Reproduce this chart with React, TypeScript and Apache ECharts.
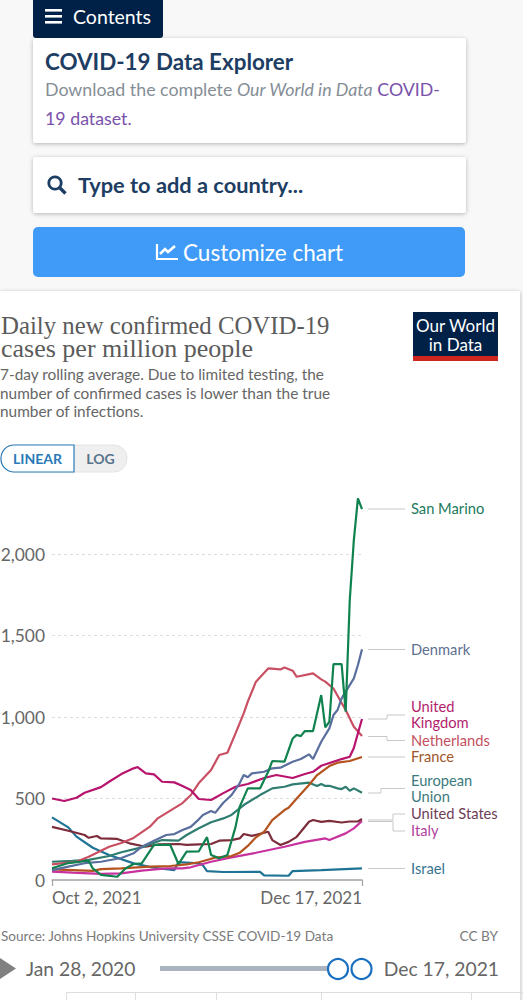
import React, { useEffect, useRef } from "react";
import * as echarts from "echarts";

const xTickLabels = ["Oct 2, 2021", "Dec 17, 2021"];
const totalDays = 76;
const yTicks = [0, 500, 1000, 1500, 2000];

const sanMarino = [[0,72],[4,104],[9,118],[10,71],[12,31],[16,20],[18,71],[20,98],[22,102],[25,215],[29,215],[31,98],[33,174],[36,176],[38,263],[39,153],[41,133],[43,153],[45,326],[46,449],[48,562],[51,562],[53,664],[54,730],[57,726],[59,868],[60,890],[61,883],[62,914],[64,914],[66,1135],[67,937],[68,971],[69,1325],[71,1325],[72,1033],[73,1718],[74,2086],[75,2341],[76,2276]];
const denmark = [[0,61],[4,82],[8,103],[12,112],[17,135],[20,164],[22,204],[25,241],[28,276],[30,282],[32,307],[34,326],[36,372],[37,399],[39,423],[40,412],[42,474],[44,521],[46,593],[47,644],[48,630],[49,654],[52,664],[54,685],[56,689],[59,726],[61,742],[63,771],[64,742],[66,848],[68,930],[69,1012],[70,1043],[71,1114],[74,1237],[75,1319],[76,1415]];
const unitedKingdom = [[0,500],[3,485],[6,505],[8,535],[12,570],[14,603],[17,650],[20,685],[21,693],[23,654],[25,648],[27,603],[30,599],[32,577],[34,552],[36,497],[39,491],[42,533],[45,572],[48,589],[52,626],[55,644],[59,626],[62,650],[64,664],[66,701],[71,742],[73,756],[74,810],[75,900],[76,988]];
const netherlands = [[0,96],[6,112],[9,143],[14,204],[17,227],[20,258],[24,327],[26,380],[32,472],[34,520],[36,595],[39,675],[41,767],[43,781],[45,900],[47,1022],[48,1094],[50,1217],[53,1298],[56,1292],[57,1304],[59,1284],[60,1247],[64,1268],[66,1231],[67,1217],[69,1175],[72,1043],[74,940],[76,883]];
const france = [[0,65],[5,61],[10,56],[12,67],[17,71],[24,82],[29,86],[33,96],[36,109],[38,123],[40,137],[44,147],[46,167],[48,209],[50,262],[52,296],[54,368],[57,429],[58,443],[60,500],[63,583],[65,644],[68,699],[70,720],[73,730],[76,755]];
const europeanUnion = [[0,112],[5,117],[9,123],[14,147],[17,170],[22,200],[25,229],[27,245],[31,241],[33,276],[36,317],[39,354],[42,378],[44,399],[47,460],[51,521],[54,562],[57,572],[59,587],[63,597],[65,577],[66,589],[67,577],[68,578],[70,562],[71,558],[72,572],[73,548],[74,562],[76,535]];
const unitedStates = [[0,326],[4,302],[8,276],[9,259],[11,270],[12,255],[16,252],[19,225],[23,204],[26,218],[31,221],[33,215],[36,218],[39,221],[41,241],[44,245],[46,255],[47,282],[49,271],[53,296],[54,245],[56,215],[58,234],[60,265],[63,357],[64,368],[66,357],[68,363],[71,353],[73,359],[75,359],[76,374]];
const italy = [[0,51],[5,45],[12,37],[17,41],[22,57],[28,71],[32,71],[34,78],[39,112],[44,139],[50,167],[57,204],[62,234],[67,255],[68,245],[72,286],[74,317],[76,362]];
const israel = [[0,384],[4,323],[6,266],[10,198],[14,153],[20,102],[25,75],[30,61],[31,110],[36,102],[37,90],[38,55],[42,49],[51,50],[52,28],[58,26],[59,55],[66,61],[76,71]];

const seriesDefs: [string, number[][], string][] = [
  ["Israel", israel, "#1f7394"],
  ["Italy", italy, "#c8329f"],
  ["United States", unitedStates, "#7c2c3a"],
  ["European Union", europeanUnion, "#2f7d70"],
  ["France", france, "#b5531e"],
  ["Netherlands", netherlands, "#c94f62"],
  ["United Kingdom", unitedKingdom, "#b8146e"],
  ["Denmark", denmark, "#5a6f9e"],
  ["San Marino", sanMarino, "#10824f"],
];

const F = "Lato";
const SERIF = "Liberation Serif";
const NAVY = "#1d3d63";
const GREY = "#666666";

const t = (text: string, x: number, y: number, fontSize: number, fill: string, extra: any = {}) => ({
  type: "text",
  z: 10,
  x,
  y,
  style: { text, fontSize, fill, fontFamily: F, textVerticalAlign: "middle", verticalAlign: "middle", ...extra },
});

const card = (x: number, y: number, width: number, height: number, fill: string, r: any, shadow = true) => ({
  type: "rect",
  z: -1,
  shape: { x, y, width, height, r },
  style: shadow
    ? { fill, shadowBlur: 4, shadowColor: "rgba(0,0,0,0.28)", shadowOffsetY: 1 }
    : { fill },
});

const leader = (points: number[][]) => ({
  type: "polyline",
  z: 5,
  shape: { points },
  style: { stroke: "#c8c8c8", lineWidth: 1, fill: "none" },
});

const labelColor = {
  sm: "#1c7a5c",
  dk: "#5d7091",
  uk: "#b31e6e",
  nl: "#c4505f",
  fr: "#a0572a",
  eu: "#3b7a7c",
  us: "#6e3d56",
  it: "#b13f9e",
  il: "#36758f",
};

const header: any[] = [
  card(0, 291, 520, 720, "#ffffff", 0),
  card(33, -4, 130, 42, "#002147", 3, false),
  { type: "rect", z: 10, shape: { x: 45, y: 9, width: 17, height: 2.6 }, style: { fill: "#fff" } },
  { type: "rect", z: 10, shape: { x: 45, y: 15, width: 17, height: 2.6 }, style: { fill: "#fff" } },
  { type: "rect", z: 10, shape: { x: 45, y: 21, width: 17, height: 2.6 }, style: { fill: "#fff" } },
  t("Contents", 73, 16, 19.5, "#ffffff"),
  card(33, 38, 433, 105, "#ffffff", 3),
  t("COVID-19 Data Explorer", 45, 61, 22.4, NAVY, { fontWeight: "bold" }),
  t("{a|Download the complete }{b|Our World in Data }{c|COVID-}", 45, 89, 17.8, "#858e96", {
    rich: {
      a: { fontSize: 17.8, fontFamily: F, fill: "#858e96" },
      b: { fontSize: 17.8, fontFamily: F, fill: "#858e96", fontStyle: "italic" },
      c: { fontSize: 17.8, fontFamily: F, fill: "#7a52ab" },
    },
  }),
  t("19 dataset.", 45, 118, 17.8, "#7a52ab"),
  card(33, 157, 433, 56, "#ffffff", 3),
  { type: "ring", z: 10, shape: { cx: 55, cy: 183, r: 7.6, r0: 4.8 }, style: { fill: NAVY } },
  { type: "line", z: 10, shape: { x1: 60, y1: 188, x2: 65.5, y2: 193.5 }, style: { stroke: NAVY, lineWidth: 3.4 } },
  t("Type to add a country...", 78, 184.5, 21.8, NAVY, { fontWeight: "bold" }),
  card(33, 227, 432, 50, "#3f9bf7", 5, false),
  { type: "polyline", z: 10, shape: { points: [[157, 244], [157, 259], [178, 259]] }, style: { stroke: "#fff", lineWidth: 2.2, fill: "none" } },
  { type: "polyline", z: 10, shape: { points: [[160, 254], [165, 249], [168, 252], [175, 246]] }, style: { stroke: "#fff", lineWidth: 2.6, fill: "none" } },
  t("Customize chart", 183, 252, 22.5, "#ffffff"),

  t("{a|Daily new confirmed COVID-19}\n{b|cases per million people}", 1, 336.5, 25, "#5b5b5b", {
    fontFamily: SERIF,
    rich: {
      a: { fontSize: 24.8, fontFamily: SERIF, fill: "#5b5b5b", lineHeight: 23 },
      b: { fontSize: 26, fontFamily: SERIF, fill: "#5b5b5b", lineHeight: 23 },
    },
  }),
  t("7-day rolling average. Due to limited testing, the\nnumber of confirmed cases is lower than the true\nnumber of infections.", 0, 392.5, 15.4, GREY, { lineHeight: 18.5 }),

  { type: "rect", z: 5, shape: { x: 413, y: 312, width: 85, height: 44 }, style: { fill: "#002147" } },
  { type: "rect", z: 5, shape: { x: 413, y: 356, width: 85, height: 5 }, style: { fill: "#ce261e" } },
  t("Our World\nin Data", 455.5, 335, 17, "#ffffff", { textAlign: "center", lineHeight: 18.5 }),

  { type: "rect", z: 5, shape: { x: 1, y: 445, width: 126, height: 27, r: 13 }, style: { fill: "#efefef", stroke: "#e4e4e4", lineWidth: 1 } },
  { type: "rect", z: 6, shape: { x: 1, y: 445, width: 73, height: 27, r: [13, 0, 0, 13] }, style: { fill: "#ffffff", stroke: "#2a7ab8", lineWidth: 1.2 } },
  t("LINEAR", 37.5, 458.5, 14, "#2a7ab8", { fontWeight: "bold", textAlign: "center" }),
  t("LOG", 100.5, 458.5, 14, "#58738a", { fontWeight: "bold", textAlign: "center" }),

  leader([[368, 509], [405, 509]]),
  t("San Marino", 411, 508, 14.7, labelColor.sm),
  leader([[368, 649.5], [405, 649.5]]),
  t("Denmark", 411, 649, 14.7, labelColor.dk),
  leader([[368, 719], [387, 719], [387, 715], [405, 715]]),
  t("United\nKingdom", 411, 714, 14.7, labelColor.uk, { lineHeight: 16 }),
  leader([[368, 736.5], [387, 736.5], [387, 740.5], [405, 740.5]]),
  t("Netherlands", 411, 740, 14.7, labelColor.nl, { lineHeight: 16 }),
  leader([[368, 757], [405, 757]]),
  t("France", 411, 756, 14.7, labelColor.fr, { lineHeight: 16 }),
  leader([[368, 793], [381, 793], [381, 788.5], [405, 788.5]]),
  t("European\nUnion", 411, 788, 14.7, labelColor.eu, { lineHeight: 16 }),
  leader([[368, 820], [393, 820], [393, 814], [405, 814]]),
  t("United States", 411, 813, 14.7, labelColor.us, { lineHeight: 16 }),
  leader([[368, 821.5], [393, 821.5], [393, 831], [405, 831]]),
  t("Italy", 411, 830, 14.7, labelColor.it, { lineHeight: 16 }),
  leader([[368, 868.5], [405, 868.5]]),
  t("Israel", 411, 868, 14.7, labelColor.il),

  t("Source: Johns Hopkins University CSSE COVID-19 Data", 1, 936, 13.6, "#7a7a7a"),
  t("CC BY", 498, 936, 13.6, "#7a7a7a", { textAlign: "right" }),
  { type: "polygon", z: 5, shape: { points: [[0, 958], [16, 968.5], [0, 979]] }, style: { fill: "#808080" } },
  t("Jan 28, 2020", 26, 968, 19.3, GREY),
  { type: "rect", z: 5, shape: { x: 160, y: 966, width: 180, height: 5 }, style: { fill: "#a9b4be" } },
  { type: "circle", z: 6, shape: { cx: 338, cy: 969, r: 10 }, style: { fill: "#ffffff", stroke: "#1a6fc0", lineWidth: 2.2 } },
  { type: "circle", z: 6, shape: { cx: 361.5, cy: 969, r: 10 }, style: { fill: "#ffffff", stroke: "#1a6fc0", lineWidth: 2.2 } },
  t("Dec 17, 2021", 499, 968, 19.3, GREY, { textAlign: "right" }),

  { type: "polyline", z: 5, shape: { points: [[66.5, 1000], [66.5, 992.5], [523, 992.5]] }, style: { stroke: "#dddddd", lineWidth: 1, fill: "none" } },
  ...[135, 216, 321, 471].map((x) => ({
    type: "line",
    z: 5,
    shape: { x1: x + 0.5, y1: 992, x2: x + 0.5, y2: 1000 },
    style: { stroke: "#dddddd", lineWidth: 1 },
  })),
];

export default function App() {
  const ref = useRef<HTMLDivElement>(null);
  useEffect(() => {
    document.body.style.margin = "0";
    const chart = echarts.init(ref.current!, null, { renderer: "svg" });
    chart.setOption({
      animation: false,
      backgroundColor: "#f8f8f8",
      graphic: { elements: header },
      grid: { left: 52, right: 161, top: 497, height: 383, containLabel: false, outerBoundsMode: "none" },
      xAxis: {
        type: "value",
        min: 0,
        max: totalDays,
        interval: totalDays,
        splitLine: { show: false },
        axisLine: { show: true, lineStyle: { color: "#a3a3a3", width: 1.5 } },
        axisTick: { show: true, length: 6, lineStyle: { color: "#a3a3a3", width: 1.2 } },
        axisLabel: {
          color: GREY,
          fontFamily: F,
          fontSize: 17,
          margin: 9,
          alignMinLabel: "left",
          alignMaxLabel: "right",
          formatter: (v: number) => (v === 0 ? xTickLabels[0] : xTickLabels[1]),
        },
      },
      yAxis: {
        type: "value",
        min: 0,
        max: 2350,
        interval: 500,
        axisLine: { show: false },
        axisTick: { show: false },
        splitLine: { show: true, showMinLine: false, showMaxLine: false, lineStyle: { color: "#dcdcdc", type: [3, 3], width: 1 } },
        axisLabel: {
          color: GREY,
          fontFamily: F,
          fontSize: 17.4,
          margin: 7,
          showMaxLabel: false,
          formatter: (v: number) => (yTicks.includes(v) ? v.toLocaleString("en-US") : ""),
        },
      },
      series: seriesDefs.map(([name, data, color]) => ({
        name,
        type: "line",
        data,
        showSymbol: false,
        symbol: "none",
        smooth: false,
        clip: false,
        lineStyle: { color, width: 2.2 },
      })),
    });
    return () => chart.dispose();
  }, []);
  return <div ref={ref} style={{ width: 523, height: 1000 }} />;
}
